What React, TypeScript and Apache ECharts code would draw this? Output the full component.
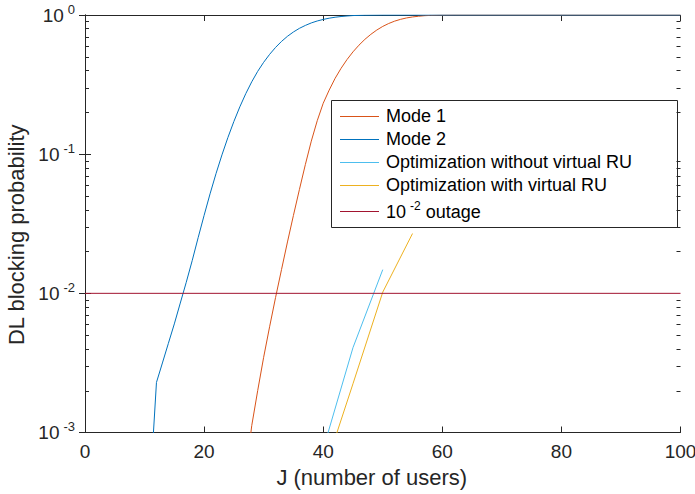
import React, { useEffect, useRef } from 'react';
import * as echarts from 'echarts';

const xTickValues = [0, 20, 40, 60, 80, 100];
const yDecades = [0.001, 0.01, 0.1, 1];
const minorTickValues = [
  0.002, 0.003, 0.004, 0.005, 0.006, 0.007, 0.008, 0.009,
  0.02, 0.03, 0.04, 0.05, 0.06, 0.07, 0.08, 0.09,
  0.2, 0.3, 0.4, 0.5, 0.6, 0.7, 0.8, 0.9,
];

const seriesNames = [
  'Mode 1',
  'Mode 2',
  'Optimization without virtual RU',
  'Optimization with virtual RU',
  '10^-2 outage',
];
const seriesColors = ['#D95319', '#0072BD', '#4DBEEE', '#EDB120', '#A2142F'];

const mode1J = [27, 28, 29, 30, 31, 32, 33, 34, 35, 36, 37, 38, 39, 40, 41, 42, 43, 44, 45, 46, 47, 48, 49, 50, 51, 52, 53, 54, 55, 56, 57, 58, 60, 62, 100];
const mode1P = [0.000501, 0.00112, 0.002, 0.00347, 0.00575, 0.00933, 0.0148, 0.0234, 0.0363, 0.0556, 0.0841, 0.124, 0.174, 0.232, 0.2884, 0.3508, 0.414, 0.4786, 0.5433, 0.6067, 0.6683, 0.7261, 0.7798, 0.8279, 0.869, 0.9036, 0.9311, 0.9528, 0.9683, 0.9795, 0.9886, 0.9931, 0.9977, 1, 1];

const mode2J = [11, 12, 13, 14, 15, 16, 17, 18, 19, 20, 21, 22, 23, 24, 25, 26, 27, 28, 29, 30, 31, 32, 33, 34, 35, 36, 37, 38, 39, 40, 41, 42, 43, 44, 45, 47, 50, 100];
const mode2P = [0.000447, 0.00229, 0.00316, 0.00437, 0.00603, 0.00851, 0.012, 0.01718, 0.02512, 0.03631, 0.05188, 0.07244, 0.09886, 0.1318, 0.1718, 0.2188, 0.2723, 0.3311, 0.3936, 0.4571, 0.5212, 0.5848, 0.6457, 0.7031, 0.7551, 0.8017, 0.8414, 0.877, 0.9058, 0.929, 0.9484, 0.9638, 0.975, 0.984, 0.9908, 0.9966, 1, 1];

const optNoVirtualJ = [40, 45, 50];
const optNoVirtualP = [0.000759, 0.00407, 0.0148];

const optVirtualJ = [40, 45, 50, 55];
const optVirtualP = [0.0005, 0.00224, 0.0102, 0.0269];

const outageJ = [0, 100];
const outageP = [0.01, 0.01];

const FONT = "'Liberation Sans', Arial, Helvetica, sans-serif";
const AX = '#262626';

const pairs = (xs: number[], ys: number[]) => xs.map((x, i) => [x, ys[i]]);

export default function App() {
  const ref = useRef<HTMLDivElement>(null);
  useEffect(() => {
    const chart = echarts.init(ref.current!, null, { renderer: 'svg' });
    const supLabel = (v: number) => {
      const e = Math.round(Math.log10(v));
      return `{b|10}{s|${e}}`;
    };
    const lineSeries = [
      pairs(mode1J, mode1P),
      pairs(mode2J, mode2P),
      pairs(optNoVirtualJ, optNoVirtualP),
      pairs(optVirtualJ, optVirtualP),
      pairs(outageJ, outageP),
    ].map((data, i) => ({
      type: 'line',
      name: seriesNames[i],
      data,
      symbol: 'none',
      showSymbol: false,
      clip: true,
      lineStyle: { color: seriesColors[i], width: 1 },
      itemStyle: { color: seriesColors[i] },
      z: 3,
    }));

    // legend (drawn as graphic)
    const lgX = 331.5, lgY = 100.5, lgW = 346, lgH = 127;
    const rowY = [116, 139, 162, 185, 211];
    const legendChildren: any[] = [
      { type: 'rect', shape: { x: lgX, y: lgY, width: lgW, height: lgH }, style: { fill: '#fff', stroke: AX, lineWidth: 1 } },
    ];
    seriesNames.forEach((n, i) => {
      legendChildren.push({
        type: 'line',
        shape: { x1: 340, y1: rowY[i] + 0.5, x2: 379, y2: rowY[i] + 0.5 },
        style: { stroke: seriesColors[i], lineWidth: 1 },
      });
      const isSup = i === 4;
      legendChildren.push({
        type: 'text',
        x: 386,
        y: rowY[i] + (isSup ? 1 : 0),
        style: isSup
          ? {
              text: '{n|10}{s|-2}{n| outage}',
              verticalAlign: 'middle',
              align: 'left',
              fill: '#000',
              rich: {
                n: { fontSize: 18, fontFamily: FONT, fill: '#000' },
                s: { fontSize: 12, fontFamily: FONT, fill: '#000', padding: [0, 0, 12, 4] },
              },
            }
          : { text: n, fontSize: 18, fontFamily: FONT, fill: '#000', verticalAlign: 'middle', align: 'left' },
      });
    });

    const yAxisBase = {
      type: 'log',
      logBase: 10,
      min: 0.001,
      max: 1,
      axisLine: { show: true, lineStyle: { color: AX, width: 1 } },
      axisTick: { show: true, inside: true, length: 6, lineStyle: { color: AX, width: 1 } },
      splitLine: { show: false },
      minorTick: { show: false },
    };
    const xAxisBase = {
      type: 'value',
      min: 0,
      max: 100,
      interval: 20,
      axisLine: { show: true, onZero: false, lineStyle: { color: AX, width: 1 } },
      axisTick: { show: true, inside: true, length: 6, lineStyle: { color: AX, width: 1 } },
      splitLine: { show: false },
    };

    chart.setOption({
      animation: false,
      backgroundColor: '#fff',
      textStyle: { fontFamily: FONT },
      grid: { left: 85, right: 14.5, top: 15, bottom: 61.5, containLabel: false, outerBoundsMode: 'none' },
      xAxis: [
        {
          ...xAxisBase,
          position: 'bottom',
          name: 'J (number of users)',
          nameLocation: 'middle',
          nameGap: 34,
          nameTextStyle: { fontSize: 22, color: AX, fontFamily: FONT, padding: [0, 22, 0, 0] },
          axisLabel: {
            show: true,
            margin: 9,
            fontSize: 19,
            color: AX,
            fontFamily: FONT,
            formatter: (v: number) => (xTickValues.includes(v) ? String(v) : ''),
          },
        },
        { ...xAxisBase, position: 'top', axisLabel: { show: false } },
      ],
      yAxis: [
        {
          ...yAxisBase,
          position: 'left',
          name: 'DL blocking probability',
          nameLocation: 'middle',
          nameGap: 53,
          nameTextStyle: { fontSize: 22, color: AX, fontFamily: FONT, padding: [0, 22, 0, 0] },
          axisLabel: {
            show: true,
            margin: 10,
            color: AX,
            formatter: (v: number) => (yDecades.some((d) => Math.abs(d - v) < 1e-9) ? supLabel(v) : ''),
            rich: {
              b: { fontSize: 19, fontFamily: FONT, color: AX },
              s: { fontSize: 13, fontFamily: FONT, color: AX, padding: [0, 0, 12, 4] },
            },
          },
        },
        { ...yAxisBase, position: 'right', axisLabel: { show: false } },
      ],
      series: [
        ...lineSeries,
        {
          type: 'custom',
          silent: true,
          clip: false,
          data: minorTickValues.map((v) => [0, v]),
          encode: { x: 0, y: 1 },
          z: 1,
          renderItem: (_params: any, api: any) => {
            const v = api.value(1);
            const l = api.coord([0, v]);
            const r = api.coord([100, v]);
            const y = Math.round(l[1]) + 0.5;
            return {
              type: 'group',
              children: [
                { type: 'line', shape: { x1: l[0], y1: y, x2: l[0] + 4, y2: y }, style: { stroke: AX, lineWidth: 1 } },
                { type: 'line', shape: { x1: r[0] - 4, y1: y, x2: r[0], y2: y }, style: { stroke: AX, lineWidth: 1 } },
              ],
            };
          },
        },
      ],
      graphic: [{ type: 'group', z: 100, children: legendChildren }],
    } as any);
    return () => chart.dispose();
  }, []);
  return <div ref={ref} style={{ position: 'fixed', left: 0, top: 0, width: 695, height: 494 }} />;
}
